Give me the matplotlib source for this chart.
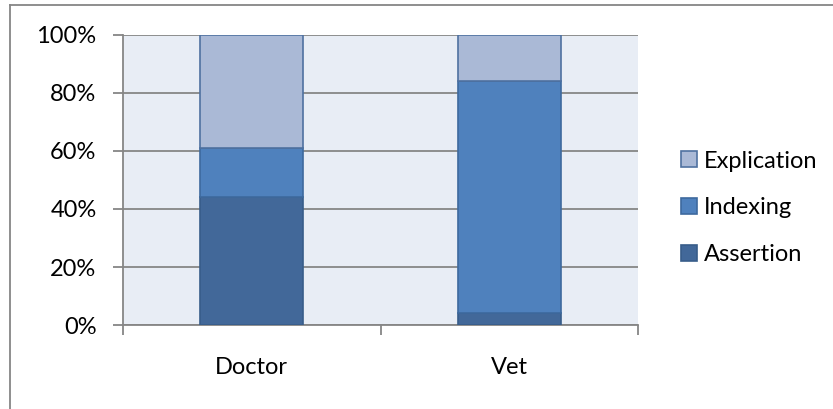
import matplotlib
matplotlib.use("Agg")
import matplotlib.pyplot as plt
from matplotlib.lines import Line2D
from matplotlib.ticker import FixedLocator, PercentFormatter

categories = ["Doctor", "Vet"]
series_names = ["Assertion", "Indexing", "Explication"]
assertion = [44, 4]
indexing = [17, 80]
explication = [39, 16]

colors = {"Assertion": "#426899", "Indexing": "#4F81BD", "Explication": "#AAB9D6"}
edges = {"Assertion": "#385D8A", "Indexing": "#3E6A9E", "Explication": "#4F71A0"}
grid_gray = "#868686"

plt.rcParams["font.family"] = ["Lato", "DejaVu Sans"]

fig = plt.figure(figsize=(8.33, 4.09), dpi=100)
ax = fig.add_axes([123 / 833, 84 / 409, 515 / 833, 290 / 409])
ax.set_facecolor("#E8EDF5")

x = [0.5, 1.5]
bottom = [0, 0]
for name, vals in zip(series_names, [assertion, indexing, explication]):
    ax.bar(x, vals, width=0.4, bottom=bottom, color=colors[name],
           edgecolor=edges[name], linewidth=1.2, label=name, zorder=3)
    bottom = [b + v for b, v in zip(bottom, vals)]

ax.set_xlim(0, 2)
ax.set_ylim(0, 100)
ax.yaxis.set_major_locator(FixedLocator([0, 20, 40, 60, 80, 100]))
ax.yaxis.set_major_formatter(PercentFormatter(decimals=0))
ax.grid(axis="y", color=grid_gray, linewidth=1.3, zorder=1)

ax.xaxis.set_major_locator(FixedLocator([0, 1, 2]))
ax.xaxis.set_major_formatter(plt.NullFormatter())
ax.xaxis.set_minor_locator(FixedLocator(x))
ax.xaxis.set_minor_formatter(plt.FixedFormatter(categories))
ax.tick_params(axis="x", which="major", direction="out", length=7, width=1.3, color=grid_gray)
ax.tick_params(axis="x", which="minor", length=0, pad=23, labelsize=17)
ax.tick_params(axis="y", direction="out", length=7, width=1.3, color=grid_gray,
               pad=12, labelsize=17)

for side in ("top", "right"):
    ax.spines[side].set_visible(False)
for side in ("left", "bottom"):
    ax.spines[side].set_color(grid_gray)
    ax.spines[side].set_linewidth(1.3)

handles = [Line2D([], [], marker="s", linestyle="none", markersize=11,
                  markerfacecolor=colors[n], markeredgecolor=edges[n],
                  markeredgewidth=1.2) for n in reversed(series_names)]
fig.legend(handles, list(reversed(series_names)), loc="center left",
           bbox_to_anchor=(671 / 833, 1 - 208 / 409), frameon=False,
           fontsize=17, handlelength=0.7, handletextpad=0.3, labelspacing=1.1,
           borderaxespad=0)

# chart frame
fig.add_artist(Line2D([10 / 833, 10 / 833], [0, 1 - 5 / 409], color=grid_gray,
                      linewidth=1.3, transform=fig.transFigure))
fig.add_artist(Line2D([10 / 833, 1], [1 - 5 / 409, 1 - 5 / 409], color=grid_gray,
                      linewidth=1.3, transform=fig.transFigure))

fig.savefig("out.png", dpi=100)
